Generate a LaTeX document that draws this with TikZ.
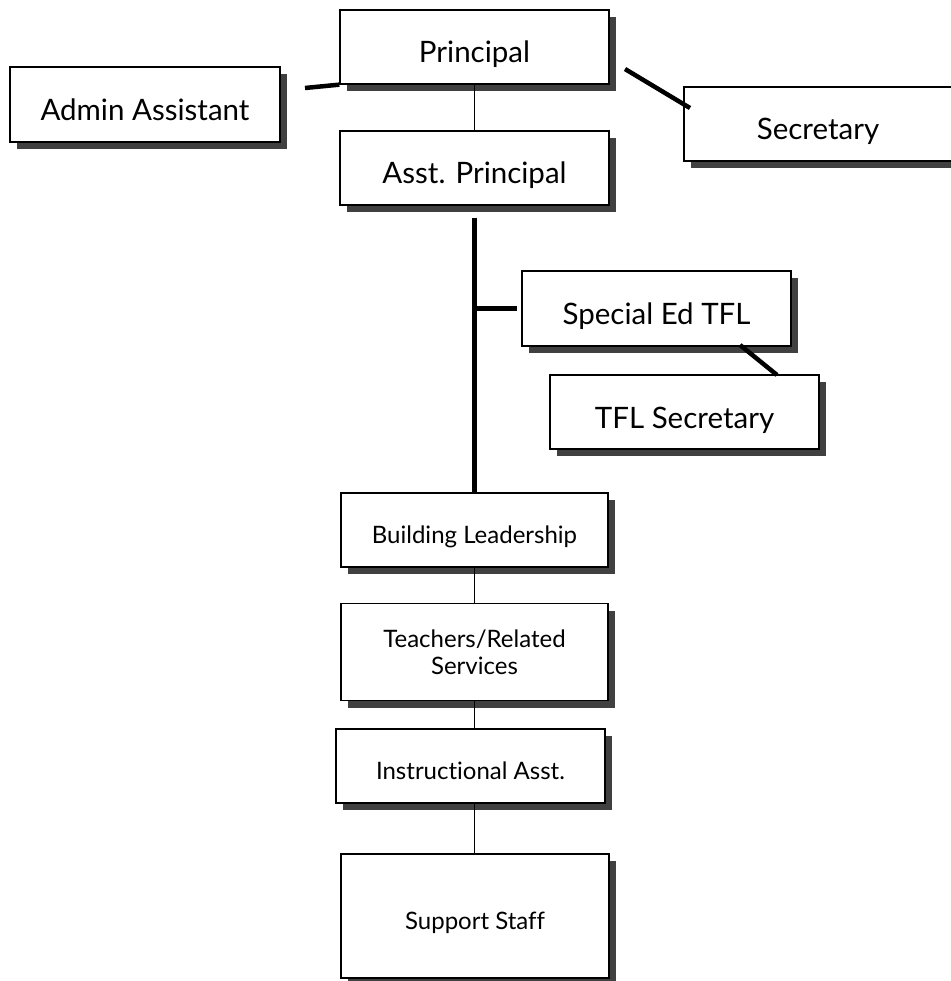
\documentclass[tikz,border=0pt]{standalone}
\usepackage{fontspec}
\setmainfont{Lato}[Ligatures=NoCommon]
\usetikzlibrary{shadows}
\newcommand{\smallsize}{\fontsize{24}{27}\selectfont}
\begin{document}
\begin{tikzpicture}[x=1pt, y=-1pt,
    orgbox/.style={draw, line width=1.3pt, fill=white, inner sep=0pt,
      drop shadow={shadow xshift=7pt, shadow yshift=-7pt, fill=black!75, opacity=1}},
    bigbox/.style={orgbox, font=\fontsize{29.5}{34}\selectfont, text height=32pt, text depth=0pt},
    smallbox/.style={orgbox, font=\smallsize, text height=26pt, text depth=0pt},
    thinline/.style={line width=1.3pt},
    thickline/.style={line width=4.5pt}]
    \useasboundingbox (0,0) rectangle (950,981);
    % Top level
    \node[bigbox, minimum width=269pt, minimum height=74pt] (pr) at (474.5,47) {Principal};
    \node[bigbox, minimum width=270pt, minimum height=75pt] (adm) at (145,104.5) {Admin Assistant};
    \node[bigbox, minimum width=268pt, minimum height=74pt] (sec) at (818,124) {Secretary};
    \node[bigbox, minimum width=269pt, minimum height=74pt] (ap) at (474.5,168) {Asst. Principal};
    % Special ed
    \node[bigbox, minimum width=269pt, minimum height=75pt] (sp) at (656.5,308.5) {Special Ed TFL};
    \node[bigbox, minimum width=269pt, minimum height=74pt] (tfls) at (684.5,412) {TFL Secretary};
    % Building staff
    \node[smallbox, minimum width=267pt, minimum height=74pt] (bl) at (474.5,530) {Building Leadership};
    \node[orgbox, font=\smallsize, align=center, minimum width=267pt, minimum height=97pt] (tr) at (474.5,652) {Teachers/Related\\Services};
    \node[smallbox, minimum width=269pt, minimum height=74pt] (ia) at (470.5,766) {Instructional Asst.};
    \node[smallbox, minimum width=268pt, minimum height=124pt] (ss) at (475,916) {Support Staff};

    % Free ends
    \coordinate (admend) at (305,88);
    \coordinate (secstart) at (625,69);
    \coordinate (secend) at (690,108);
    \coordinate (spend) at (740,345);
    \coordinate (tflend) at (777,375);

    % Connectors
    \draw[thinline] (pr.south) -- (ap.north);
    \draw[thickline] (admend) -- (pr.south west);
    \draw[thickline] (secstart) -- (secend);
    \draw[thickline, shorten <=12pt] (ap.south) -- (bl.north);
    \draw[thickline, shorten >=4pt] (sp.west -| ap.south) -- (sp.west);
    \draw[thickline] (spend) -- (tflend);
    \draw[thinline] (bl.south) -- (tr.north);
    \draw[thinline] (tr.south) -- (tr.south |- ia.north);
    \draw[thinline] (tr.south |- ia.south) -- (tr.south |- ss.north);
\end{tikzpicture}
\end{document}
